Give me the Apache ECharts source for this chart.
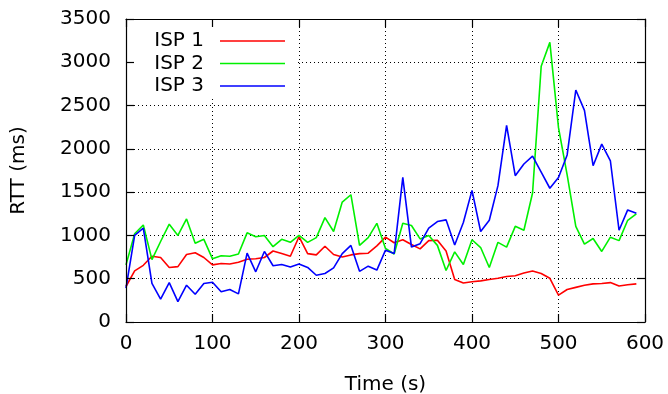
<!DOCTYPE html>
<html>
<head>
<meta charset="utf-8">
<script src="https://cdn.jsdelivr.net/npm/echarts@6/dist/echarts.min.js"></script>
<style>
  html, body { margin: 0; padding: 0; background: #fff; }
  #chart { width: 668px; height: 394px; }
</style>
</head>
<body>
<div id="chart"></div>
<script>
// Sample times (s), one sample every 10 s
const times = [
  0, 10, 20, 30, 40, 50, 60, 70, 80, 90,
  100, 110, 120, 130, 140, 150, 160, 170, 180, 190,
  200, 210, 220, 230, 240, 250, 260, 270, 280, 290,
  300, 310, 320, 330, 340, 350, 360, 370, 380, 390,
  400, 410, 420, 430, 440, 450, 460, 470, 480, 490,
  500, 510, 520, 530, 540, 550, 560, 570, 580, 590
];

// Round-trip times (ms) per provider
const isp1 = [
  410, 590, 655, 760, 745, 630, 640, 780, 800, 745,
  660, 675, 670, 690, 725, 730, 745, 820, 790, 760,
  985, 790, 775, 875, 780, 750, 775, 790, 795, 880,
  980, 915, 950, 895, 845, 940, 945, 820, 490, 450,
  465, 475, 490, 505, 525, 535, 565, 590, 560, 505,
  310, 375, 400, 425, 440, 445, 455, 415, 430, 440
];
const isp2 = [
  660, 1020, 1120, 720, 930, 1130, 1000, 1190, 910, 955,
  730, 765, 760, 785, 1030, 985, 1000, 870, 955, 920,
  1000, 920, 975, 1205, 1045, 1385, 1470, 885, 975, 1140,
  850, 785, 1140, 1115, 960, 1000, 885, 595, 810, 665,
  950, 860, 630, 920, 865, 1105, 1060, 1490, 2955, 3230,
  2245, 1700, 1105, 900, 965, 815, 980, 940, 1175, 1250
];
const isp3 = [
  390, 1000, 1085, 445, 265, 455, 235, 425, 320, 445,
  460, 350, 375, 325, 795, 580, 815, 650, 665, 635,
  670, 630, 540, 560, 625, 790, 885, 585, 645, 600,
  830, 790, 1670, 865, 905, 1085, 1160, 1180, 890, 1150,
  1520, 1045, 1175, 1575, 2270, 1690, 1825, 1915, 1730, 1545,
  1670, 1930, 2680, 2445, 1805, 2055, 1860, 1060, 1295, 1255
];

const seriesNames = ['ISP 1', 'ISP 2', 'ISP 3'];
const seriesColors = ['#ff0000', '#00f000', '#0000ff'];
const seriesValues = [isp1, isp2, isp3];

const FONT = 'DejaVu Sans';
const FS = 20;

const chart = echarts.init(document.getElementById('chart'), null, { renderer: 'canvas' });

const gridRect = { left: 126, right: 23, top: 19, bottom: 72 };

const dotted = { color: '#000', width: 1, type: [1, 3] };
const borderLine = { show: true, onZero: false, lineStyle: { color: '#000', width: 1.2 } };
const innerTicks = { show: true, inside: true, length: 8, lineStyle: { color: '#000', width: 1.2 } };
const plainNumber = v => String(v);

function pairs(vals) {
  return times.map((t, i) => [t, vals[i]]);
}

const option = {
  animation: false,
  backgroundColor: '#fff',
  textStyle: { fontFamily: FONT },
  grid: Object.assign({ containLabel: false, outerBoundsMode: 'none' }, gridRect),
  graphic: [{
    // white key box, above the grid lines but below the border and ticks
    type: 'rect',
    z: 1,
    shape: { x: 126, y: 19, width: 171, height: 80 },
    style: { fill: '#fff' }
  }],
  legend: {
    z: 5,
    orient: 'vertical',
    right: 668 - 285,
    top: 31,
    padding: 0,
    align: 'right',
    icon: 'rect',
    itemWidth: 65,
    itemHeight: 1.6,
    itemGap: 2.5,
    selectedMode: false,
    data: seriesNames,
    textStyle: {
      fontFamily: FONT, fontSize: FS, color: '#000',
      lineHeight: 20, padding: [0, 11, 0, 0]
    }
  },
  xAxis: [
    {
      type: 'value', position: 'bottom', min: 0, max: 600, interval: 100, z: 3,
      axisLine: borderLine, axisTick: innerTicks,
      splitLine: { show: false },
      axisLabel: { color: '#000', fontFamily: FONT, fontSize: FS, margin: 12, formatter: plainNumber },
      name: 'Time (s)', nameLocation: 'middle', nameGap: 53,
      nameTextStyle: { color: '#000', fontFamily: FONT, fontSize: FS }
    },
    {
      type: 'value', position: 'top', min: 0, max: 600, interval: 100, z: 3,
      axisLine: borderLine, axisTick: innerTicks,
      splitLine: { show: false }, axisLabel: { show: false }
    },
    {
      type: 'value', position: 'bottom', min: 0, max: 600, interval: 100, z: 0,
      axisLine: { show: false }, axisTick: { show: false }, axisLabel: { show: false },
      splitLine: { show: true, lineStyle: dotted }
    }
  ],
  yAxis: [
    {
      type: 'value', position: 'left', min: 0, max: 3500, interval: 500, z: 3,
      axisLine: borderLine, axisTick: innerTicks,
      splitLine: { show: false },
      axisLabel: { color: '#000', fontFamily: FONT, fontSize: FS, margin: 15, formatter: plainNumber },
      name: 'RTT (ms)', nameLocation: 'middle', nameGap: 97, nameRotate: 90,
      nameTextStyle: { color: '#000', fontFamily: FONT, fontSize: FS }
    },
    {
      type: 'value', position: 'right', min: 0, max: 3500, interval: 500, z: 3,
      axisLine: borderLine, axisTick: innerTicks,
      splitLine: { show: false }, axisLabel: { show: false }
    },
    {
      type: 'value', position: 'left', min: 0, max: 3500, interval: 500, z: 0,
      axisLine: { show: false }, axisTick: { show: false }, axisLabel: { show: false },
      splitLine: { show: true, lineStyle: dotted }
    }
  ],
  series: seriesNames.map((name, k) => ({
    name: name,
    type: 'line',
    xAxisIndex: 0,
    yAxisIndex: 0,
    z: 2,
    symbol: 'none',
    showSymbol: false,
    color: seriesColors[k],
    lineStyle: { color: seriesColors[k], width: 1.6 },
    data: pairs(seriesValues[k])
  }))
};

chart.setOption(option);
</script>
</body>
</html>
